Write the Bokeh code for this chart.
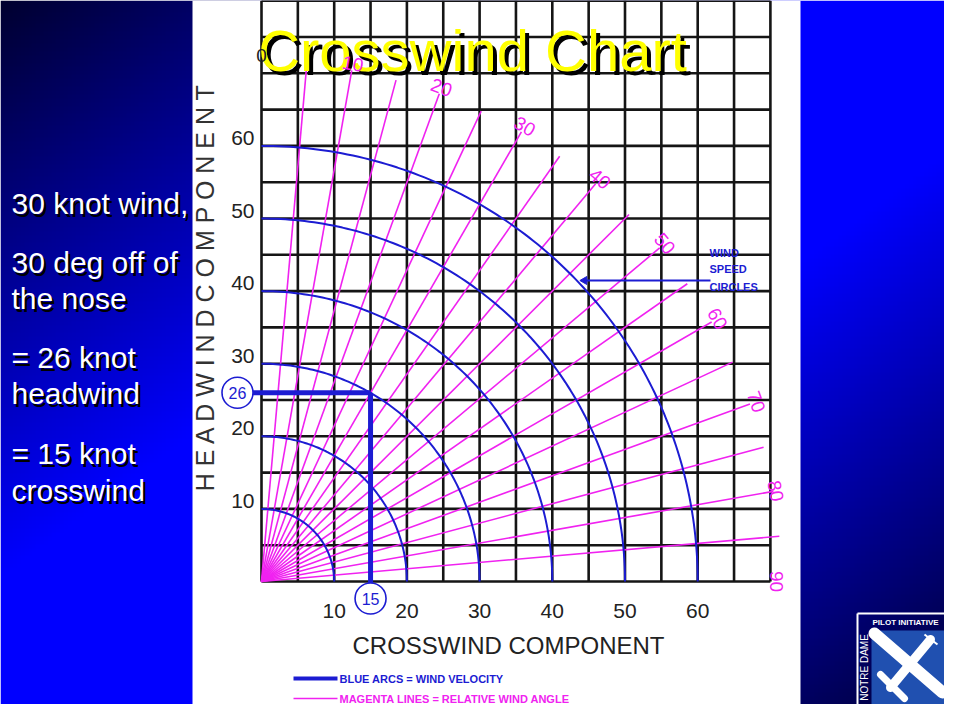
import numpy as np
from bokeh.plotting import figure
from bokeh.models import Range1d
from bokeh.core.properties import value
from bokeh.embed import file_html
from bokeh.resources import INLINE

# ---------------- data ----------------
wind_speeds = [10, 20, 30, 40, 50, 60]                       # blue arcs (knots)
angle_lines = [5, 10, 15, 20, 25, 30, 35, 40, 45, 50, 55, 60, 65, 70, 75, 80, 85]  # magenta rays (deg)
angle_labels = [0, 10, 20, 30, 40, 50, 60, 70, 80, 90]
x_ticks = [10, 20, 30, 40, 50, 60]
y_ticks = [10, 20, 30, 40, 50, 60]
x_grid = [0, 5, 10, 15, 20, 25, 30, 35, 40, 45, 50, 55, 60, 65, 70]
y_grid = [0, 5, 10, 15, 20, 25, 30, 35, 40, 45, 50, 55, 60, 65, 70, 75, 80]
ray_length = 71.5
example_headwind = 26
example_crosswind = 15
notes = ["30 knot wind,", "30 deg off of", "the nose", "= 26 knot", "headwind",
         "= 15 knot", "crosswind"]

# ---------------- layout helpers (reference pixel -> knots) ----------------
PX, PY, X0, Y0 = 7.27, 7.26, 261.0, 581.0
def kx(px): return (px - X0) / PX
def ky(py): return (Y0 - py) / PY

W, H = 944, 704
FONT = value("Liberation Sans")
BLUE = "#1c1cd2"
MAG = "#f022f0"
INK = "#222222"

p = figure(width=W, height=H, x_range=Range1d(kx(0), kx(W)), y_range=Range1d(ky(H), ky(0)),
           output_backend="svg", toolbar_location=None, min_border=0,
           x_axis_location=None, y_axis_location=None)
p.outline_line_color = None
p.grid.visible = False
p.background_fill_color = "white"
p.border_fill_color = "white"

# background gradient (diagonal: dark corners top-left / bottom-right)
ny, nx = 180, 240
fx = np.linspace(0, 1, nx)[None, :] * (W / 960)
fy = np.linspace(1, 0, ny)[:, None] * (H / 720)
t = fx + fy
d = np.minimum(t, 2 - t)
b = 48 + 207 * np.clip(d / 0.8, 0, 1)
img = np.empty((ny, nx), dtype=np.uint32)
v = img.view(dtype=np.uint8).reshape((ny, nx, 4))
v[..., 0] = 0
v[..., 1] = 0
v[..., 2] = b.astype(np.uint8)
v[..., 3] = 255
p.image_rgba(image=[img], x=kx(0), y=ky(H), dw=kx(W) - kx(0), dh=ky(0) - ky(H))

# white chart panel
p.quad(left=kx(192), right=kx(800), bottom=ky(H), top=ky(0), fill_color="white", line_color=None)

# grid
gx_top, gy_right = max(y_grid), max(x_grid)
p.segment(x0=x_grid, y0=[0] * len(x_grid), x1=x_grid, y1=[gx_top] * len(x_grid),
          line_color="#151515", line_width=2.6)
p.segment(x0=[0] * len(y_grid), y0=y_grid, x1=[gy_right] * len(y_grid), y1=y_grid,
          line_color="#151515", line_width=2.6)

# magenta relative wind angle rays
th = np.radians(angle_lines)
p.segment(x0=[0] * len(th), y0=[0] * len(th), x1=ray_length * np.sin(th), y1=ray_length * np.cos(th),
          line_color=MAG, line_width=1.6)

# blue wind speed arcs
phi = np.linspace(0, np.pi / 2, 120)
p.multi_line(xs=[list(r * np.sin(phi)) for r in wind_speeds],
             ys=[list(r * np.cos(phi)) for r in wind_speeds],
             line_color=BLUE, line_width=2)

# tick labels
p.text(x=x_ticks, y=[ky(610)] * len(x_ticks), text=[str(v_) for v_ in x_ticks],
       text_align="center", text_baseline="middle", text_font=FONT,
       text_font_size="21px", text_color=INK)
p.text(x=[kx(254)] * len(y_ticks), y=[yv + 1.1 for yv in y_ticks], text=[str(v_) for v_ in y_ticks],
       text_align="right", text_baseline="middle", text_font=FONT,
       text_font_size="21px", text_color=INK)

# axis titles
p.text(x=[kx(204)], y=[ky(279)], text=["H E A D W I N D   C O M P O N E N T"], angle=np.pi / 2,
       text_align="center", text_baseline="middle", text_font=FONT,
       text_font_size="25px", text_color="#333333")
p.text(x=[kx(508)], y=[ky(645)], text=["CROSSWIND COMPONENT"],
       text_align="center", text_baseline="middle", text_font=FONT,
       text_font_size="24px", text_color=INK)

# worked example: 26 kt headwind, 15 kt crosswind
c26x = kx(237)
c15y = ky(598)
p.segment(x0=[c26x], y0=[example_headwind], x1=[example_crosswind], y1=[example_headwind],
          line_color=BLUE, line_width=5)
p.segment(x0=[example_crosswind], y0=[example_headwind], x1=[example_crosswind], y1=[c15y],
          line_color=BLUE, line_width=5)
p.scatter(x=[c26x, example_crosswind], y=[example_headwind, c15y], marker="circle", size=31,
          fill_color="white", line_color=BLUE, line_width=1.6)
p.text(x=[c26x, example_crosswind], y=[example_headwind, c15y],
       text=[str(example_headwind), str(example_crosswind)],
       text_align="center", text_baseline="middle", text_font=FONT,
       text_font_size="16px", text_color=BLUE)

# "WIND SPEED CIRCLES" callout
p.segment(x0=[kx(710)], y0=[ky(280)], x1=[kx(584)], y1=[ky(280)], line_color=BLUE, line_width=2)
p.scatter(x=[kx(584)], y=[ky(280)], marker="triangle", angle=np.pi / 2, size=8,
          fill_color=BLUE, line_color=BLUE)
p.text(x=[kx(709)] * 3, y=[ky(252), ky(268), ky(286)], text=["WIND", "SPEED", "CIRCLES"],
       text_align="left", text_baseline="middle", text_font=FONT, text_font_style="bold",
       text_font_size="11px", text_color=BLUE)

# legend
p.segment(x0=[kx(293)], y0=[ky(678)], x1=[kx(337)], y1=[ky(678)], line_color=BLUE, line_width=4)
p.segment(x0=[kx(293)], y0=[ky(698)], x1=[kx(337)], y1=[ky(698)], line_color=MAG, line_width=1.6)
p.text(x=[kx(339)], y=[ky(678)], text=["BLUE ARCS = WIND VELOCITY"],
       text_align="left", text_baseline="middle", text_font=FONT, text_font_style="bold",
       text_font_size="11px", text_color=BLUE)
p.text(x=[kx(339)], y=[ky(698)], text=["MAGENTA LINES = RELATIVE WIND ANGLE"],
       text_align="left", text_baseline="middle", text_font=FONT, text_font_style="bold",
       text_font_size="11px", text_color=MAG)

# title with shadow
p.text(x=[kx(472) + 4 / PX], y=[ky(50) - 4 / PY], text=["Crosswind Chart"], text_align="center",
       text_baseline="alphabetic", text_font=FONT, text_font_size="58px", text_color="black")
p.text(x=[kx(472)], y=[ky(50)], text=["Crosswind Chart"], text_align="center",
       text_baseline="alphabetic", text_font=FONT, text_font_size="58px", text_color="#ffff00")

# angle labels (drawn above the title shadow)
la = np.array(angle_labels, dtype=float)
lr = np.where(la >= 90, 70.8, np.where(la >= 80, 71.8, 72.4))
lth = np.radians(la)
p.text(x=lr * np.sin(lth), y=lr * np.cos(lth), text=[str(a) for a in angle_labels],
       angle=list(-lth), text_align="center", text_baseline="middle",
       text_font=FONT, text_font_size="19px",
       text_color=[INK if a == 0 else MAG for a in angle_labels])

# side notes with shadow
note_baselines = [203, 262, 298, 357, 393, 453, 490]
nx_ = [kx(11)] * len(notes)
p.text(x=[q + 2.5 / PX for q in nx_], y=[ky(bl) - 2.5 / PY for bl in note_baselines], text=notes,
       text_align="left", text_baseline="alphabetic", text_font=FONT,
       text_font_size="30px", text_color="black")
p.text(x=nx_, y=[ky(bl) for bl in note_baselines], text=notes,
       text_align="left", text_baseline="alphabetic", text_font=FONT,
       text_font_size="30px", text_color="white")

# logo (Notre Dame Pilot Initiative), shifted to stay inside the canvas
LX, LY = -16, -16
def lx(px): return kx(px + LX)
def ly(py): return ky(py + LY)
p.segment(x0=[lx(873), lx(873)], y0=[ly(629), ly(629)], x1=[lx(960), lx(873)], y1=[ly(629), ly(720)],
          line_color="white", line_width=2)
p.quad(left=lx(887), right=lx(960), bottom=ly(720), top=ly(646), fill_color="#2050b0", line_color=None)
p.segment(x0=[lx(890), lx(946), lx(896)], y0=[ly(649), ly(655), ly(690)],
          x1=[lx(958), lx(906), lx(920)], y1=[ly(708), ly(703), ly(714)],
          line_color="white", line_width=[12, 9, 7], line_cap="round")
p.segment(x0=[lx(940)], y0=[ly(650)], x1=[lx(953)], y1=[ly(660)], line_color="white", line_width=2)
p.text(x=[lx(888)], y=[ly(638)], text=["PILOT INITIATIVE"], text_align="left", text_baseline="middle",
       text_font=FONT, text_font_style="bold", text_font_size="8px", text_color="white")
p.text(x=[lx(880)], y=[ly(683)], text=["NOTRE DAME"], angle=np.pi / 2, text_align="center",
       text_baseline="middle", text_font=FONT, text_font_size="10px", text_color="white")

open("out.html", "w").write(file_html(p, INLINE))
